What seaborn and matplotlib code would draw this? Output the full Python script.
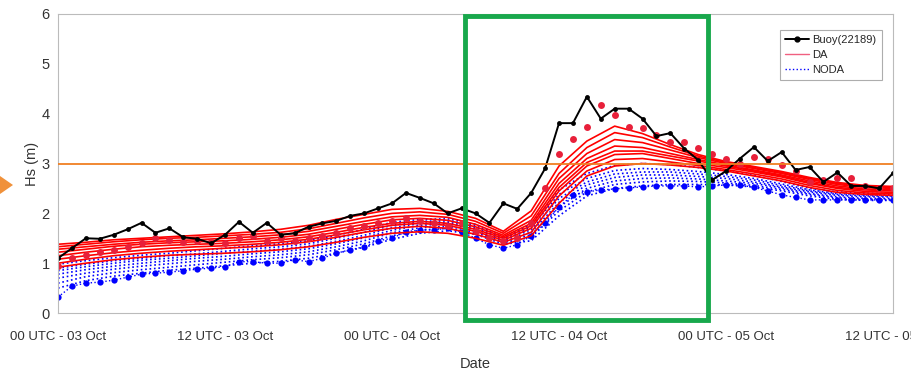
import numpy as np
import pandas as pd
import matplotlib
matplotlib.use("Agg")
import matplotlib.pyplot as plt
from matplotlib.patches import Rectangle, Polygon
from matplotlib.lines import Line2D
from matplotlib.transforms import IdentityTransform
import seaborn as sns

# hourly buoy observations and analyses (hours since 00 UTC 03 Oct)
hours = list(range(61))
buoy = [1.1, 1.3, 1.5, 1.49, 1.57, 1.68, 1.81, 1.61, 1.7, 1.52,
        1.49, 1.4, 1.57, 1.83, 1.61, 1.81, 1.57, 1.6, 1.73, 1.8,
        1.85, 1.95, 2.0, 2.1, 2.2, 2.41, 2.31, 2.2, 2.0, 2.1,
        2.0, 1.81, 2.2, 2.09, 2.41, 2.9, 3.81, 3.81, 4.34, 3.9,
        4.1, 4.1, 3.9, 3.55, 3.61, 3.3, 3.07, 2.67, 2.85, 3.1,
        3.33, 3.05, 3.23, 2.87, 2.93, 2.63, 2.82, 2.55, 2.55, 2.5,
        2.81]
da_analysis = [0.95, 1.1, 1.17, 1.23, 1.27, 1.33, 1.4, 1.5, 1.47, 1.43,
               1.45, 1.42, 1.4, 1.5, 1.55, 1.45, 1.5, 1.45, 1.5, 1.55,
               1.6, 1.7, 1.75, 1.8, 1.85, 1.9, 1.85, 1.8, 1.75, 1.8,
               1.65, 1.5, 1.45, 1.5, 1.8, 2.5, 3.2, 3.5, 3.73, 4.18,
               3.98, 3.73, 3.71, 3.57, 3.43, 3.43, 3.31, 3.2, 3.1, 3.0,
               3.13, 3.1, 2.97, 2.85, 2.63, 2.67, 2.7, 2.71, 2.55, 2.5,
               2.5]
noda_analysis = [0.32, 0.54, 0.6, 0.62, 0.66, 0.72, 0.78, 0.8, 0.82, 0.85,
                 0.88, 0.9, 0.93, 1.03, 1.03, 1.0, 1.0, 1.07, 1.03, 1.1,
                 1.2, 1.27, 1.33, 1.45, 1.5, 1.63, 1.67, 1.67, 1.7, 1.63,
                 1.5, 1.37, 1.3, 1.37, 1.55, 1.8, 2.13, 2.37, 2.43, 2.47,
                 2.49, 2.51, 2.53, 2.55, 2.55, 2.55, 2.53, 2.55, 2.57, 2.57,
                 2.52, 2.45, 2.37, 2.32, 2.27, 2.27, 2.27, 2.27, 2.27, 2.27,
                 2.27]

# 2-hourly forecast members
fc_hours = list(range(0, 61, 2))
da_members = [
    [0.92, 1.0, 1.07, 1.12, 1.16, 1.18, 1.2, 1.23, 1.27, 1.33, 1.42, 1.52, 1.6, 1.63, 1.6, 1.5,
     1.36, 1.55, 2.2, 2.75, 2.95, 3.0, 2.97, 2.92, 2.85, 2.75, 2.65, 2.52, 2.42, 2.38, 2.36],
    [1.0, 1.08, 1.15, 1.2, 1.24, 1.27, 1.3, 1.33, 1.37, 1.43, 1.52, 1.62, 1.7, 1.74, 1.7, 1.58,
     1.42, 1.62, 2.35, 2.85, 3.08, 3.1, 3.03, 2.96, 2.88, 2.79, 2.69, 2.56, 2.46, 2.41, 2.39],
    [1.08, 1.15, 1.21, 1.26, 1.3, 1.33, 1.35, 1.38, 1.42, 1.48, 1.57, 1.67, 1.76, 1.8, 1.76, 1.64,
     1.46, 1.7, 2.45, 2.95, 3.18, 3.2, 3.1, 3.0, 2.92, 2.83, 2.73, 2.6, 2.5, 2.44, 2.42],
    [1.15, 1.22, 1.28, 1.33, 1.36, 1.38, 1.4, 1.43, 1.47, 1.53, 1.62, 1.72, 1.8, 1.84, 1.8, 1.68,
     1.5, 1.75, 2.52, 3.02, 3.25, 3.25, 3.15, 3.05, 2.95, 2.85, 2.75, 2.62, 2.52, 2.47, 2.45],
    [1.22, 1.28, 1.34, 1.38, 1.41, 1.43, 1.45, 1.48, 1.52, 1.58, 1.68, 1.78, 1.87, 1.9, 1.86, 1.73,
     1.53, 1.8, 2.6, 3.1, 3.35, 3.32, 3.2, 3.08, 2.97, 2.87, 2.77, 2.65, 2.55, 2.49, 2.47],
    [1.28, 1.33, 1.38, 1.42, 1.45, 1.47, 1.5, 1.53, 1.57, 1.64, 1.74, 1.84, 1.93, 1.96, 1.92, 1.78,
     1.56, 1.86, 2.7, 3.2, 3.48, 3.42, 3.27, 3.12, 3.0, 2.9, 2.8, 2.68, 2.58, 2.52, 2.5],
    [1.33, 1.38, 1.43, 1.47, 1.5, 1.52, 1.55, 1.58, 1.62, 1.69, 1.8, 1.91, 2.0, 2.03, 1.98, 1.84,
     1.6, 1.95, 2.8, 3.32, 3.62, 3.52, 3.33, 3.15, 3.02, 2.92, 2.82, 2.7, 2.6, 2.54, 2.52],
    [1.38, 1.42, 1.47, 1.5, 1.53, 1.56, 1.59, 1.63, 1.68, 1.76, 1.88, 1.98, 2.08, 2.1, 2.04, 1.9,
     1.64, 2.05, 2.95, 3.45, 3.75, 3.6, 3.38, 3.18, 3.04, 2.94, 2.84, 2.72, 2.62, 2.56, 2.54],
]
noda_members = [
    [0.5, 0.65, 0.74, 0.8, 0.86, 0.9, 0.95, 1.0, 1.04, 1.1, 1.2, 1.32, 1.48, 1.6, 1.65, 1.58,
     1.38, 1.45, 1.95, 2.35, 2.5, 2.55, 2.58, 2.58, 2.57, 2.53, 2.45, 2.35, 2.28, 2.26, 2.26],
    [0.6, 0.73, 0.81, 0.87, 0.92, 0.97, 1.02, 1.07, 1.11, 1.17, 1.27, 1.39, 1.55, 1.66, 1.7, 1.62,
     1.41, 1.52, 2.05, 2.43, 2.58, 2.63, 2.65, 2.64, 2.61, 2.56, 2.48, 2.38, 2.31, 2.28, 2.28],
    [0.7, 0.8, 0.88, 0.94, 0.99, 1.04, 1.08, 1.13, 1.17, 1.23, 1.33, 1.45, 1.61, 1.71, 1.74, 1.65,
     1.43, 1.57, 2.13, 2.5, 2.65, 2.7, 2.71, 2.69, 2.65, 2.6, 2.51, 2.4, 2.33, 2.3, 2.3],
    [0.78, 0.87, 0.94, 1.0, 1.05, 1.1, 1.14, 1.19, 1.23, 1.29, 1.39, 1.51, 1.66, 1.76, 1.79, 1.69,
     1.46, 1.62, 2.22, 2.57, 2.72, 2.77, 2.77, 2.74, 2.7, 2.63, 2.53, 2.43, 2.36, 2.33, 2.33],
    [0.85, 0.93, 1.0, 1.06, 1.1, 1.15, 1.2, 1.24, 1.28, 1.34, 1.44, 1.56, 1.71, 1.8, 1.82, 1.72,
     1.48, 1.67, 2.3, 2.63, 2.79, 2.83, 2.83, 2.79, 2.74, 2.67, 2.56, 2.45, 2.38, 2.35, 2.35],
    [0.9, 0.98, 1.05, 1.1, 1.15, 1.19, 1.24, 1.29, 1.33, 1.39, 1.5, 1.62, 1.76, 1.84, 1.85, 1.75,
     1.5, 1.72, 2.38, 2.7, 2.86, 2.9, 2.88, 2.84, 2.78, 2.7, 2.59, 2.47, 2.4, 2.37, 2.37],
    [0.98, 1.05, 1.11, 1.16, 1.2, 1.25, 1.3, 1.35, 1.39, 1.45, 1.56, 1.68, 1.82, 1.88, 1.89, 1.78,
     1.52, 1.78, 2.47, 2.8, 2.96, 3.0, 2.98, 2.92, 2.85, 2.76, 2.64, 2.5, 2.43, 2.4, 2.4],
]

xtick_hours = [0, 12, 24, 36, 48, 60]
xtick_labels = ["00 UTC - 03 Oct", "12 UTC - 03 Oct", "00 UTC - 04 Oct",
                "12 UTC - 04 Oct", "00 UTC - 05 Oct", "12 UTC - 05 Oct"]
threshold = 3.0

sns.set_style("white")
plt.rcParams['font.family'] = ['Liberation Sans Narrow', 'Liberation Sans', 'DejaVu Sans']

fig = plt.figure(figsize=(9.12, 3.74), dpi=100)
ax = fig.add_axes([0.0636, 0.163, 0.9156, 0.7996])

for m in noda_members:
    sns.lineplot(x=fc_hours, y=m, ax=ax, color="blue", lw=1.2, linestyle=":", estimator=None)
sns.lineplot(x=hours, y=noda_analysis, ax=ax, color="blue", lw=1.0, linestyle=":",
             marker="o", markersize=4.5, markeredgewidth=0, estimator=None)

for m in da_members:
    sns.lineplot(x=fc_hours, y=m, ax=ax, color="red", lw=1.2, estimator=None)
sns.lineplot(x=hours, y=da_analysis, ax=ax, color="#e8203a", lw=0, marker="o",
             markersize=5, markeredgewidth=0, estimator=None)

sns.lineplot(x=hours, y=buoy, ax=ax, color="black", lw=1.4, marker="o",
             markersize=3.5, markeredgewidth=0, estimator=None)

ax.axhline(threshold, color="#f07f22", lw=1.3, zorder=5)

ax.set_xlim(0, 60)
ax.set_ylim(0, 6)
ax.set_xticks(xtick_hours)
ax.set_xticklabels(xtick_labels, fontsize=9.5, color="#333333")
ax.set_yticks(range(7))
ax.set_yticklabels([str(v) for v in range(7)], fontsize=10.5, color="#333333")
ax.tick_params(axis="both", length=2, color="#999999", pad=4)
ax.tick_params(axis="x", pad=11)
ax.set_xlabel("Date", fontsize=10.5, color="#333333", labelpad=10)
ax.set_ylabel("Hs (m)", fontsize=10.5, color="#333333", labelpad=2)
for s in ax.spines.values():
    s.set_color("#bbbbbb")
    s.set_linewidth(0.8)

# legend
handles = [Line2D([], [], color="black", lw=1.4, marker="o", markersize=3.5),
           Line2D([], [], color="#f06080", lw=1.0),
           Line2D([], [], color="blue", lw=1.0, linestyle=":")]
leg = ax.legend(handles, ["Buoy(22189)", "DA", "NODA"], loc="upper right",
                bbox_to_anchor=(0.993, 0.965), fontsize=8, frameon=True,
                fancybox=False, handlelength=2.2, handletextpad=0.3,
                labelspacing=0.45, borderpad=0.45)
leg.get_frame().set_edgecolor("#999999")
leg.get_frame().set_linewidth(0.8)

# highlight box and arrow
ax.add_patch(Rectangle((29.25, -0.14), 17.45, 6.1, fill=False, edgecolor="#18a84c",
                       lw=3.5, clip_on=False, zorder=10))
fig.patches.append(Polygon([[0, 374 - 176], [13, 374 - 185], [0, 374 - 194]], closed=True,
                           transform=IdentityTransform(), facecolor="#f0913a",
                           edgecolor="none"))

fig.savefig("out.png", dpi=100)
